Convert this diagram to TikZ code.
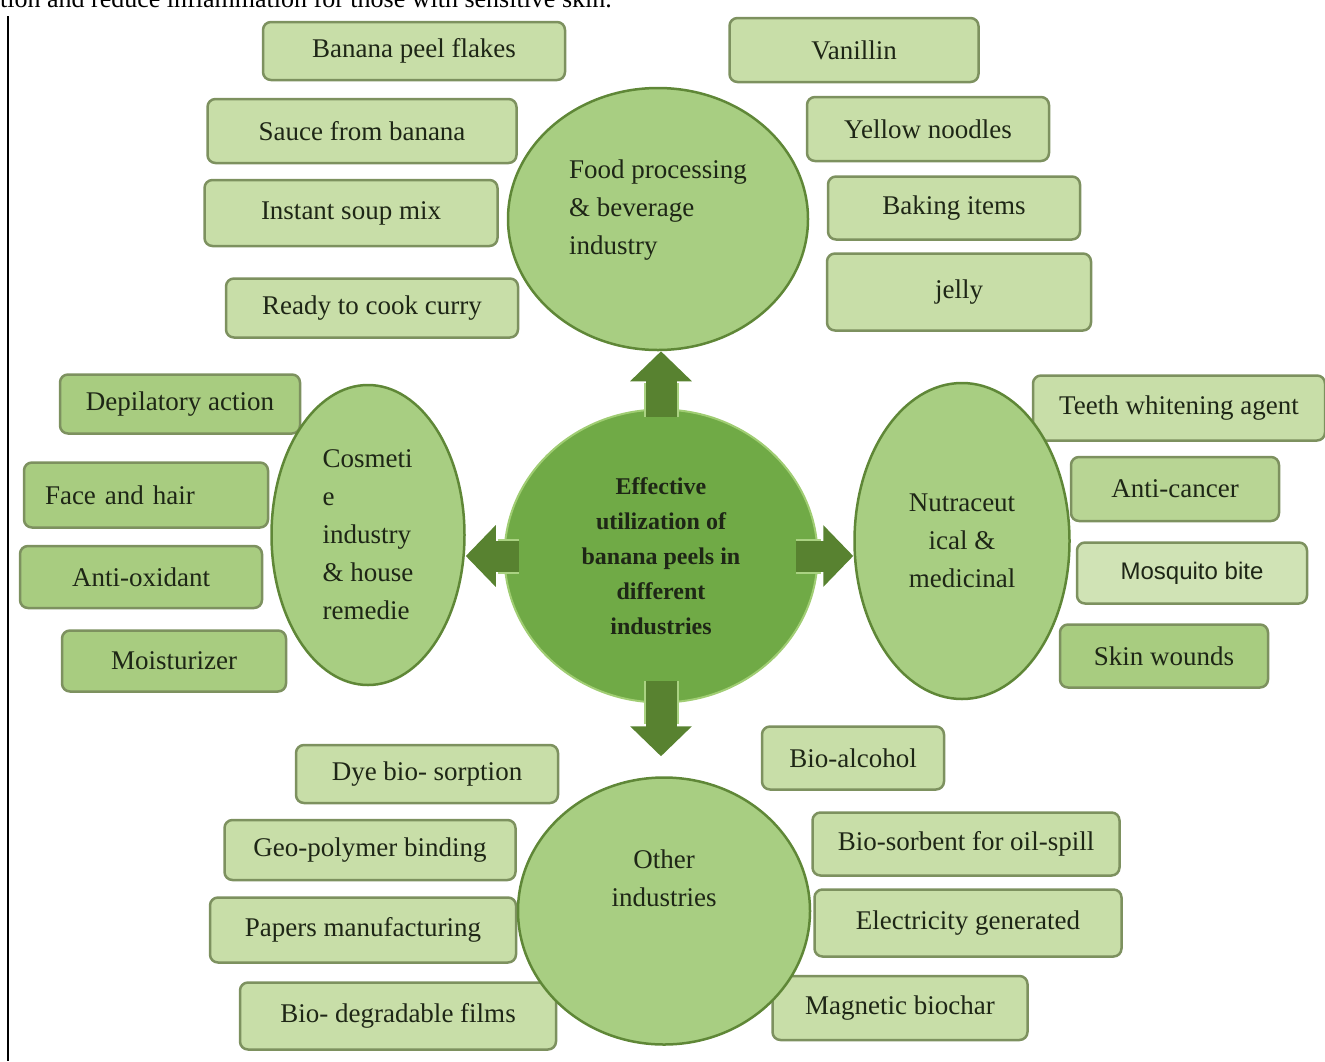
\documentclass[tikz,border=0pt]{standalone}
\usepackage{fontspec}
\setmainfont{Liberation Serif}
\setsansfont{Liberation Sans}
\usetikzlibrary{shapes,arrows.meta,calc}
\definecolor{LeafLight}{RGB}{200,222,168}
\definecolor{LeafMid}{RGB}{168,204,128}
\definecolor{LeafEdge}{RGB}{125,145,95}
\definecolor{PodFill}{RGB}{168,206,130}
\definecolor{PodEdge}{RGB}{95,135,55}
\definecolor{HubFill}{RGB}{112,170,70}
\definecolor{HubEdge}{RGB}{160,205,115}
\definecolor{ArrowGreen}{RGB}{88,130,48}
\definecolor{ArrowEdge}{RGB}{170,210,130}
\definecolor{InkDark}{RGB}{30,38,22}
\tikzset{
  lbox/.style={draw=LeafEdge,fill=LeafLight,rounded corners=8pt,line width=2.5pt,
               font=\fontsize{27}{38}\selectfont,text=InkDark,inner sep=0pt,align=center},
  mbox/.style={lbox,fill=LeafMid},
  pod/.style={ellipse,draw=PodEdge,fill=PodFill,line width=2.5pt,
              font=\fontsize{27}{38}\selectfont,text=InkDark,inner sep=0pt},
  podtext/.style={font=\fontsize{27}{38}\selectfont,text=InkDark,inner sep=0pt},
  hub/.style={ellipse,draw=HubEdge,fill=HubFill,line width=2pt,
              font=\fontsize{24}{35}\selectfont\bfseries,text=InkDark,
              align=center,inner sep=0pt},
  bigarr/.style={-{Triangle[width=60pt,length=30pt]},line width=31pt,ArrowGreen,
                 preaction={draw=ArrowEdge,line width=35pt,-,shorten >=32pt}},
}
\begin{document}
\begin{tikzpicture}[x=1pt,y=-1pt]
        \useasboundingbox (0,0) rectangle (1325,1061);
        \clip (0,0) rectangle (1325,1061);
        \node[anchor=base west,inner sep=0pt,font=\fontsize{26}{30}\selectfont] (note) at (0,7)
          {tion and reduce inflammation for those with sensitive skin.};
        \draw[line width=2.5pt] (8,16) -- (8,1061);

        \node[lbox,minimum width=302pt,minimum height=58pt] (flakes) at (414,51) {Banana peel flakes};
        \node[lbox,minimum width=309pt,minimum height=64pt] (sauce) at (362,131) {Sauce from banana};
        \node[lbox,minimum width=293pt,minimum height=66pt] (soup) at (351,213) {Instant soup mix};
        \node[lbox,minimum width=292pt,minimum height=59pt] (curry) at (372,308) {Ready to cook curry};
        \node[lbox,minimum width=249pt,minimum height=64pt] (vanillin) at (854,50) {Vanillin};
        \node[lbox,minimum width=242pt,minimum height=64pt] (noodles) at (928,129) {Yellow noodles};
        \node[lbox,minimum width=252pt,minimum height=63pt] (baking) at (954,208) {Baking items};
        \node[lbox,minimum width=264pt,minimum height=77pt] (jelly) at (959,292) {jelly};

        \node[mbox,minimum width=240pt,minimum height=59pt] (depil) at (180,404) {Depilatory action};
        \node[mbox,minimum width=244pt,minimum height=65pt,text width=202pt,align=left] (face) at (146,495) {Face and hair};
        \node[mbox,minimum width=242pt,minimum height=62pt] (antiox) at (141,577) {Anti-oxidant};
        \node[mbox,minimum width=224pt,minimum height=61pt] (moist) at (174,661) {Moisturizer};

        \node[lbox,minimum width=292pt,minimum height=65pt] (teeth) at (1179,408) {Teeth whitening agent};
        \node[lbox,fill=LeafMid!50!LeafLight,minimum width=208pt,minimum height=64pt] (cancer) at (1175,489) {Anti-cancer};
        \node[lbox,fill=LeafLight!85!white,minimum width=230pt,minimum height=61pt,
              font=\sffamily\fontsize{24}{30}\selectfont] (mosquito) at (1192,573) {Mosquito bite};
        \node[mbox,minimum width=208pt,minimum height=63pt] (wounds) at (1164,656) {Skin wounds};

        \node[lbox,minimum width=262pt,minimum height=58pt] (dye) at (427,774) {Dye bio- sorption};
        \node[lbox,minimum width=291pt,minimum height=60pt] (geo) at (370,850) {Geo-polymer binding};
        \node[lbox,minimum width=306pt,minimum height=65pt] (papers) at (363,930) {Papers manufacturing};
        \node[lbox,minimum width=316pt,minimum height=67pt] (films) at (398,1016) {Bio- degradable films};
        \node[lbox,minimum width=182pt,minimum height=63pt] (alcohol) at (853,758) {Bio-alcohol};
        \node[lbox,minimum width=307pt,minimum height=63pt] (sorbent) at (966,844) {Bio-sorbent for oil-spill};
        \node[lbox,minimum width=307pt,minimum height=67pt] (power) at (968,923) {Electricity generated};
        \node[lbox,minimum width=255pt,minimum height=64pt] (biochar) at (900,1008) {Magnetic biochar};

        \node[pod,minimum width=300pt,minimum height=262pt,
              label={[podtext,align=left,yshift=9pt]center:Food processing\\\& beverage\\industry}] (food) at (658,219) {};
        \node[pod,minimum width=193pt,minimum height=300pt,align=left] (cosm) at (368,535)
          {Cosmeti\\e\\industry\\\& house\\remedie};
        \node[pod,minimum width=215pt,minimum height=316pt,align=center] (nutr) at (962,541)
          {Nutraceut\\ical \&\\medicinal};
        \node[pod,minimum width=292pt,minimum height=267pt,
              label={[podtext,align=center,yshift=33pt]center:Other\\industries}] (other) at (664,911) {};

        \node[hub,minimum width=313pt,minimum height=293pt] (core) at (661,556)
          {Effective\\utilization of\\banana peels in\\different\\industries};

        \coordinate (dtip) at ($(core.south |- other.north)+(0,-20)$);
        \draw[bigarr,shorten <=-8pt] (core.north) -- (core.north |- food.south);
        \draw[bigarr,shorten <=-23pt] (core.south) -- (dtip);
        \draw[bigarr,shorten <=-15pt] (core.west) -- (core.west -| cosm.east);
        \draw[bigarr,shorten <=-23pt] (core.east) -- (core.east -| nutr.west);
      \end{tikzpicture}
\end{document}
